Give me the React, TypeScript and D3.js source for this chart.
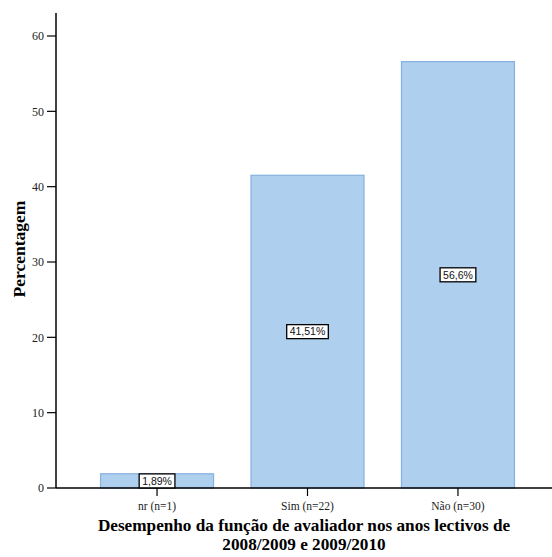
import React from "react";
import * as d3 from "d3";

const categories = ["nr (n=1)", "Sim (n=22)", "Não (n=30)"];
const values = [1.89, 41.51, 56.6];
const valueLabels = ["1,89%", "41,51%", "56,6%"];
const yTicks = [0, 10, 20, 30, 40, 50, 60];

const charW: Record<string, number> = { ",": 0.278, "%": 0.889 };
const textW = (s: string, size: number) => s.split("").reduce((a, ch) => a + (charW[ch] ?? 0.556), 0) * size;

export default function App() {
  const W = 552, H = 557;
  const x0 = 56, x1 = 552;
  const y = d3.scaleLinear().domain([0, 60]).range([488, 36]);
  const x = d3.scaleBand().domain(categories).range([56, 559]).paddingInner(0.249).paddingOuter(0.296);
  const bw = x.bandwidth();
  const serif = "'Times New Roman', 'Liberation Serif', Times, serif";
  const sans = "Arial, 'Liberation Sans', Helvetica, sans-serif";
  const lblSize = 10.5;
  return (
    <svg width={W} height={H} style={{ position: "absolute", left: 0, top: 0 }}>
      <rect width={W} height={H} fill="#fff" />
      {categories.map((c, i) => {
        const top = y(values[i]);
        return (
          <rect key={c} x={x(c)!} y={top} width={bw} height={y(0) - top} fill="#aecfee" stroke="#86b1e0" strokeWidth={1.2} />
        );
      })}
      <line x1={x0} x2={x0} y1={13} y2={488} stroke="#000" strokeWidth={1.5} />
      <line x1={x0} x2={x1} y1={488} y2={488} stroke="#000" strokeWidth={1.5} />
      {yTicks.map((t) => (
        <g key={t}>
          <line x1={x0 - 9} x2={x0} y1={y(t)} y2={y(t)} stroke="#000" strokeWidth={1.2} />
          <text x={x0 - 12} y={y(t)} dy="0.35em" textAnchor="end" style={{ fontFamily: serif }} fontSize={12} fill="#222">{t}</text>
        </g>
      ))}
      {categories.map((c) => {
        const cx = x(c)! + bw / 2;
        return (
          <g key={c}>
            <line x1={cx} x2={cx} y1={488} y2={496} stroke="#000" strokeWidth={1.2} />
            <text x={cx} y={510} textAnchor="middle" style={{ fontFamily: serif }} fontSize={11.5} fill="#222">{c}</text>
          </g>
        );
      })}
      {categories.map((c, i) => {
        const cx = x(c)! + bw / 2;
        const cy = y(values[i] / 2);
        const tw = textW(valueLabels[i], lblSize) + 6;
        return (
          <g key={"l" + c}>
            <rect x={cx - tw / 2} y={cy - 7} width={tw} height={14} fill="#fff" stroke="#000" strokeWidth={1.3} />
            <text x={cx} y={cy} dy="0.36em" textAnchor="middle" style={{ fontFamily: sans }} fontSize={lblSize} fill="#111">{valueLabels[i]}</text>
          </g>
        );
      })}
      <text transform="translate(25,249) rotate(-90)" textAnchor="middle" style={{ fontFamily: serif }} fontSize={17.5} fontWeight="bold">Percentagem</text>
      <text x={304} y={530.5} textAnchor="middle" style={{ fontFamily: serif }} fontSize={17.2} fontWeight="bold">Desempenho da função de avaliador nos anos lectivos de</text>
      <text x={304} y={549.8} textAnchor="middle" style={{ fontFamily: serif }} fontSize={17.2} fontWeight="bold">2008/2009 e 2009/2010</text>
    </svg>
  );
}
